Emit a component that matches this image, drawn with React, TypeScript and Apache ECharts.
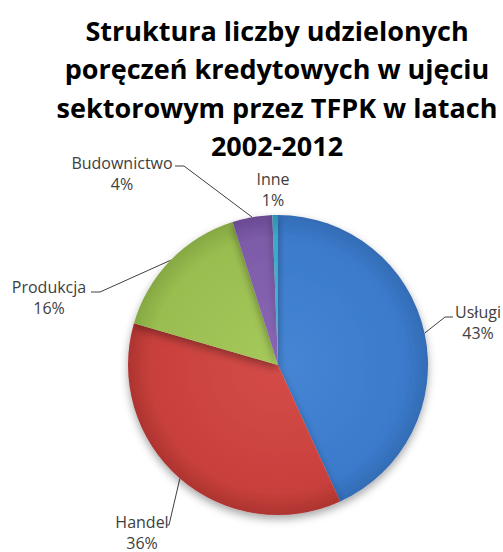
import React, { useEffect, useRef } from "react";
import * as echarts from "echarts";

const titleLines = [
  "Struktura liczby udzielonych",
  "poręczeń kredytowych w ujęciu",
  "sektorowym przez TFPK w latach",
  "2002-2012",
];
const categories = ["Usługi", "Handel", "Produkcja", "Budownictwo", "Inne"];
const values = [43.2, 36.3, 15.6, 4.3, 0.6];

const palette = [
  ["#4686d4", "#3b7acb", "#336cb5"],
  ["#d44c48", "#c8403c", "#ad3430"],
  ["#a6c95c", "#9abd50", "#86a843"],
  ["#8b68b6", "#7d5ba8", "#6a4a93"],
  ["#4bb8d4", "#3ba9c6", "#2f92ad"],
];

// label placement (layout only)
const labelPlacement = [
  { x: 478, y: 322, elbow: [445, 317], end: [453, 317], line: true },
  { x: 142, y: 532, elbow: [169, 525], end: [167, 525], line: true },
  { x: 49, y: 297, elbow: [100, 292], end: [91, 292], line: true },
  { x: 122, y: 173, elbow: [184, 166], end: [175, 166], line: true },
  { x: 273, y: 189, elbow: [273, 189], end: [273, 189], line: false },
];

const CX = 278;
const CY = 365;
const R = 150;

export default function App() {
  const ref = useRef<HTMLDivElement>(null);
  useEffect(() => {
    if (!ref.current) return;
    const chart = echarts.init(ref.current, null, { renderer: "svg" });
    const total = values.reduce((a, b) => a + b, 0);
    chart.setOption({
      animation: false,
      backgroundColor: "#ffffff",
      title: {
        text: titleLines.join("\n"),
        left: 277,
        top: 11,
        padding: 0,
        textAlign: "center",
        textStyle: {
          fontFamily: "Open Sans",
          fontWeight: "bold",
          fontSize: 27,
          lineHeight: 38.5,
          color: "#000000",
        },
      },
      series: [
        {
          type: "pie",
          left: 0,
          top: 0,
          width: 900,
          height: 552,
          center: [CX, CY],
          radius: R,
          startAngle: 90,
          clockwise: true,
          data: categories.map((name, i) => ({
            name,
            value: values[i],
            itemStyle: {
              color: {
                type: "radial",
                x: CX,
                y: CY,
                r: R,
                global: true,
                colorStops: [
                  { offset: 0, color: palette[i][0] },
                  { offset: 0.85, color: palette[i][1] },
                  { offset: 1, color: palette[i][2] },
                ],
              },
            },
            labelLine: { show: labelPlacement[i].line },
          })),
          itemStyle: {
            shadowBlur: 8,
            shadowOffsetY: 4,
            shadowColor: "rgba(0,0,0,0.35)",
            borderWidth: 0,
          },
          label: {
            show: true,
            position: "outside",
            overflow: "none",
            formatter: (p: any) =>
              `${p.name}\n${Math.round((p.value / total) * 100)}%`,
            fontFamily: "Open Sans",
            fontSize: 16,
            lineHeight: 21,
            color: "#404040",
            align: "center",
          },
          labelLine: {
            show: true,
            lineStyle: { color: "#404040", width: 1 },
          },
          labelLayout: (params: any) => {
            const cfg = labelPlacement[params.dataIndex];
            const out: any = {
              x: cfg.x,
              y: cfg.y,
              align: "center",
              verticalAlign: "middle",
            };
            if (cfg.line && params.labelLinePoints) {
              out.labelLinePoints = [
                params.labelLinePoints[0],
                cfg.elbow,
                cfg.end,
              ];
            }
            return out;
          },
        },
      ],
    });
    return () => chart.dispose();
  }, []);
  return (
    <div
      ref={ref}
      style={{ position: "fixed", left: 0, top: 0, width: 503, height: 552 }}
    />
  );
}
